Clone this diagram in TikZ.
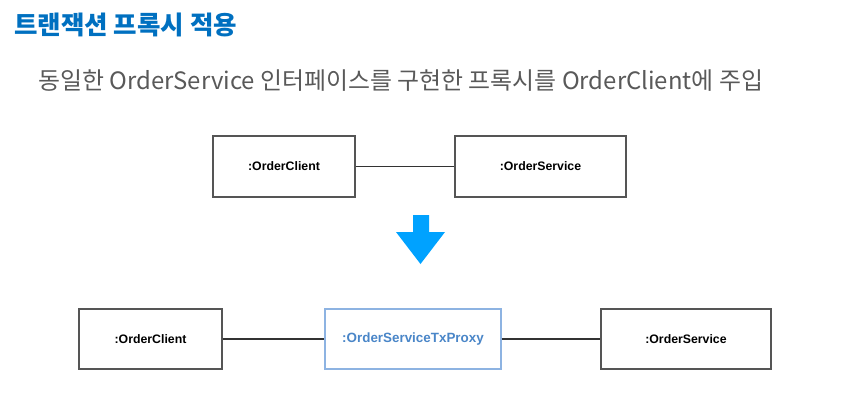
\documentclass[tikz,border=0pt]{standalone}
\usepackage{fontspec}
\setmainfont{Liberation Sans}
\newfontfamily\kr{Noto Sans CJK KR}
\definecolor{titleblue}{RGB}{0,112,192}
\definecolor{subgray}{RGB}{89,89,89}
\definecolor{boxgray}{RGB}{85,85,85}
\definecolor{linegray}{RGB}{51,51,51}
\definecolor{proxyborder}{RGB}{141,179,226}
\definecolor{proxytext}{RGB}{74,134,200}
\definecolor{arrowblue}{RGB}{0,162,255}
\tikzset{
  objbox/.style={draw=boxgray, line width=1.1pt, fill=white, inner sep=0pt,
    font=\fontsize{12.3}{14}\selectfont\bfseries, text=black},
  proxybox/.style={objbox, draw=proxyborder, text=proxytext,
    font=\fontsize{13.4}{15}\selectfont\bfseries},
  link/.style={draw=linegray, line width=1.1pt}
}
\begin{document}
\begin{tikzpicture}[x=1pt,y=-1pt]
\useasboundingbox (0,0) rectangle (847,400);
\node[anchor=base west, inner sep=0pt, text=titleblue, font=\kr\fontsize{25.5}{28}\selectfont\bfseries] (title) at (14,34) {트랜잭션 프록시 적용};
\node[anchor=base west, inner sep=0pt, text=subgray, font=\kr\fontsize{23.9}{27}\selectfont] (subtitle) at (38,89) {동일한 OrderService 인터페이스를 구현한 프록시를 OrderClient에 주입};
% top row
\node[objbox, minimum width=142pt, minimum height=61pt] (c1) at (284,166.5) {:OrderClient};
\node[objbox, minimum width=171pt, minimum height=61pt] (s1) at (540.5,166.5) {:OrderService};
\draw[link] (c1) -- (s1);
% arrow
\fill[arrowblue] (413,215) -- (429,215) -- (429,232) -- (445,232) -- (420.5,264) -- (396,232) -- (413,232) -- cycle;
% bottom row
\node[objbox, minimum width=143pt, minimum height=60pt] (c2) at (150.5,339) {:OrderClient};
\node[proxybox, minimum width=176pt, minimum height=60pt] (p2) at (413,339) {:OrderServiceTxProxy};
\node[objbox, minimum width=170pt, minimum height=60pt] (s2) at (686,339) {:OrderService};
\draw[link] (c2) -- (p2);
\draw[link] (p2) -- (s2);
\end{tikzpicture}
\end{document}
